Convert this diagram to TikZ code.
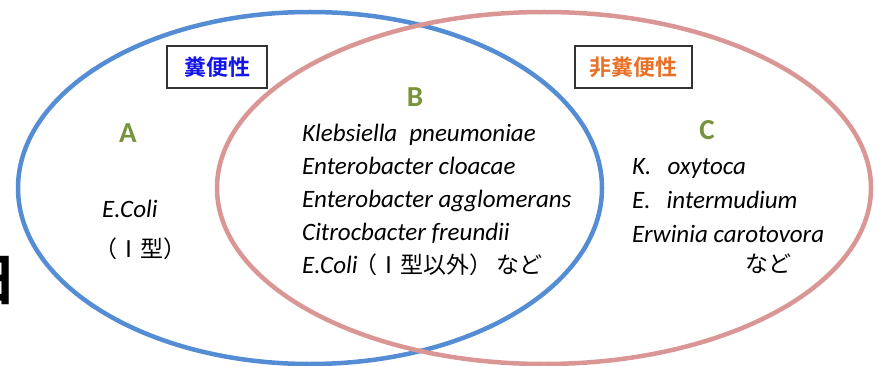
\documentclass[tikz,border=0pt]{standalone}
\usepackage{fontspec}
\setmainfont{Carlito}
\newfontfamily\jp{Noto Sans CJK JP}
\newfontfamily\jpb{Noto Sans CJK JP Bold}
\definecolor{ellblue}{RGB}{84,141,212}
\definecolor{ellpink}{RGB}{217,150,148}
\definecolor{lblgreen}{RGB}{119,147,60}
\definecolor{jpblue}{RGB}{20,20,235}
\definecolor{jporange}{RGB}{232,113,40}
\tikzset{
  ellline/.style={line width=4.5pt},
  species/.style={anchor=base west, inner sep=0pt, font=\fontsize{25}{30}\selectfont\itshape},
  jptext/.style={anchor=base west, inner sep=0pt, font=\fontsize{23}{28}\selectfont\jp},
  letter/.style={anchor=base, inner sep=0pt, text=lblgreen, font=\fontsize{29}{34}\selectfont\bfseries},
  jpbox/.style={draw=black!80, line width=1.3pt, minimum height=42pt, inner sep=0pt, font=\fontsize{22}{26}\selectfont\jpb}
}
\begin{document}
\begin{tikzpicture}[x=1pt,y=-1pt]
\useasboundingbox (0,0) rectangle (877,366);
\clip (0,0) rectangle (877,366);
% partial character at the left edge
\node[inner sep=0pt, font=\fontsize{56}{60}\selectfont\jpb] (edgechar) at (-10,281) {日};
% ellipses
\draw[ellline, ellblue] (310,188) ellipse [x radius=292pt, y radius=176pt];
\draw[ellline, ellpink] (544,188) ellipse [x radius=327pt, y radius=176pt];
% boxes
\node[jpbox, minimum width=100pt, text=jpblue] (fecal) at (217,67) {糞便性};
\node[jpbox, minimum width=117pt, text=jporange] (nonfecal) at (633.5,67) {非糞便性};
% letters
\node[letter] (la) at (128,143) {A};
\node[letter] (lb) at (415,107) {B};
\node[letter] (lc) at (707,140) {C};
% A region
\node[species] (a1) at (102,217) {E.Coli};
\node[jptext] (a2) at (94,257) {（Ⅰ型）};
% B region
\node[species] (b1) at (302,142) {Klebsiella\hspace{12pt}pneumoniae};
\node[species] (b2) at (302,175) {Enterobacter cloacae};
\node[species] (b3) at (302,207) {Enterobacter agglomerans};
\node[species] (b4) at (302,240) {Citrocbacter freundii};
\node[species] (b5) at (302,273) {E.Coli{\jp\upshape\fontsize{23}{28}\selectfont\hspace{-3pt}（Ⅰ型以外）\hspace{4pt}など}};
% C region
\node[species] (c1) at (632,175) {K.\hspace{16pt}oxytoca};
\node[species] (c2) at (632,208) {E.\hspace{16pt}intermudium};
\node[species] (c3) at (632,242) {Erwinia carotovora};
\node[jptext, anchor=base] (c4) at (768,272) {など};
\end{tikzpicture}
\end{document}
